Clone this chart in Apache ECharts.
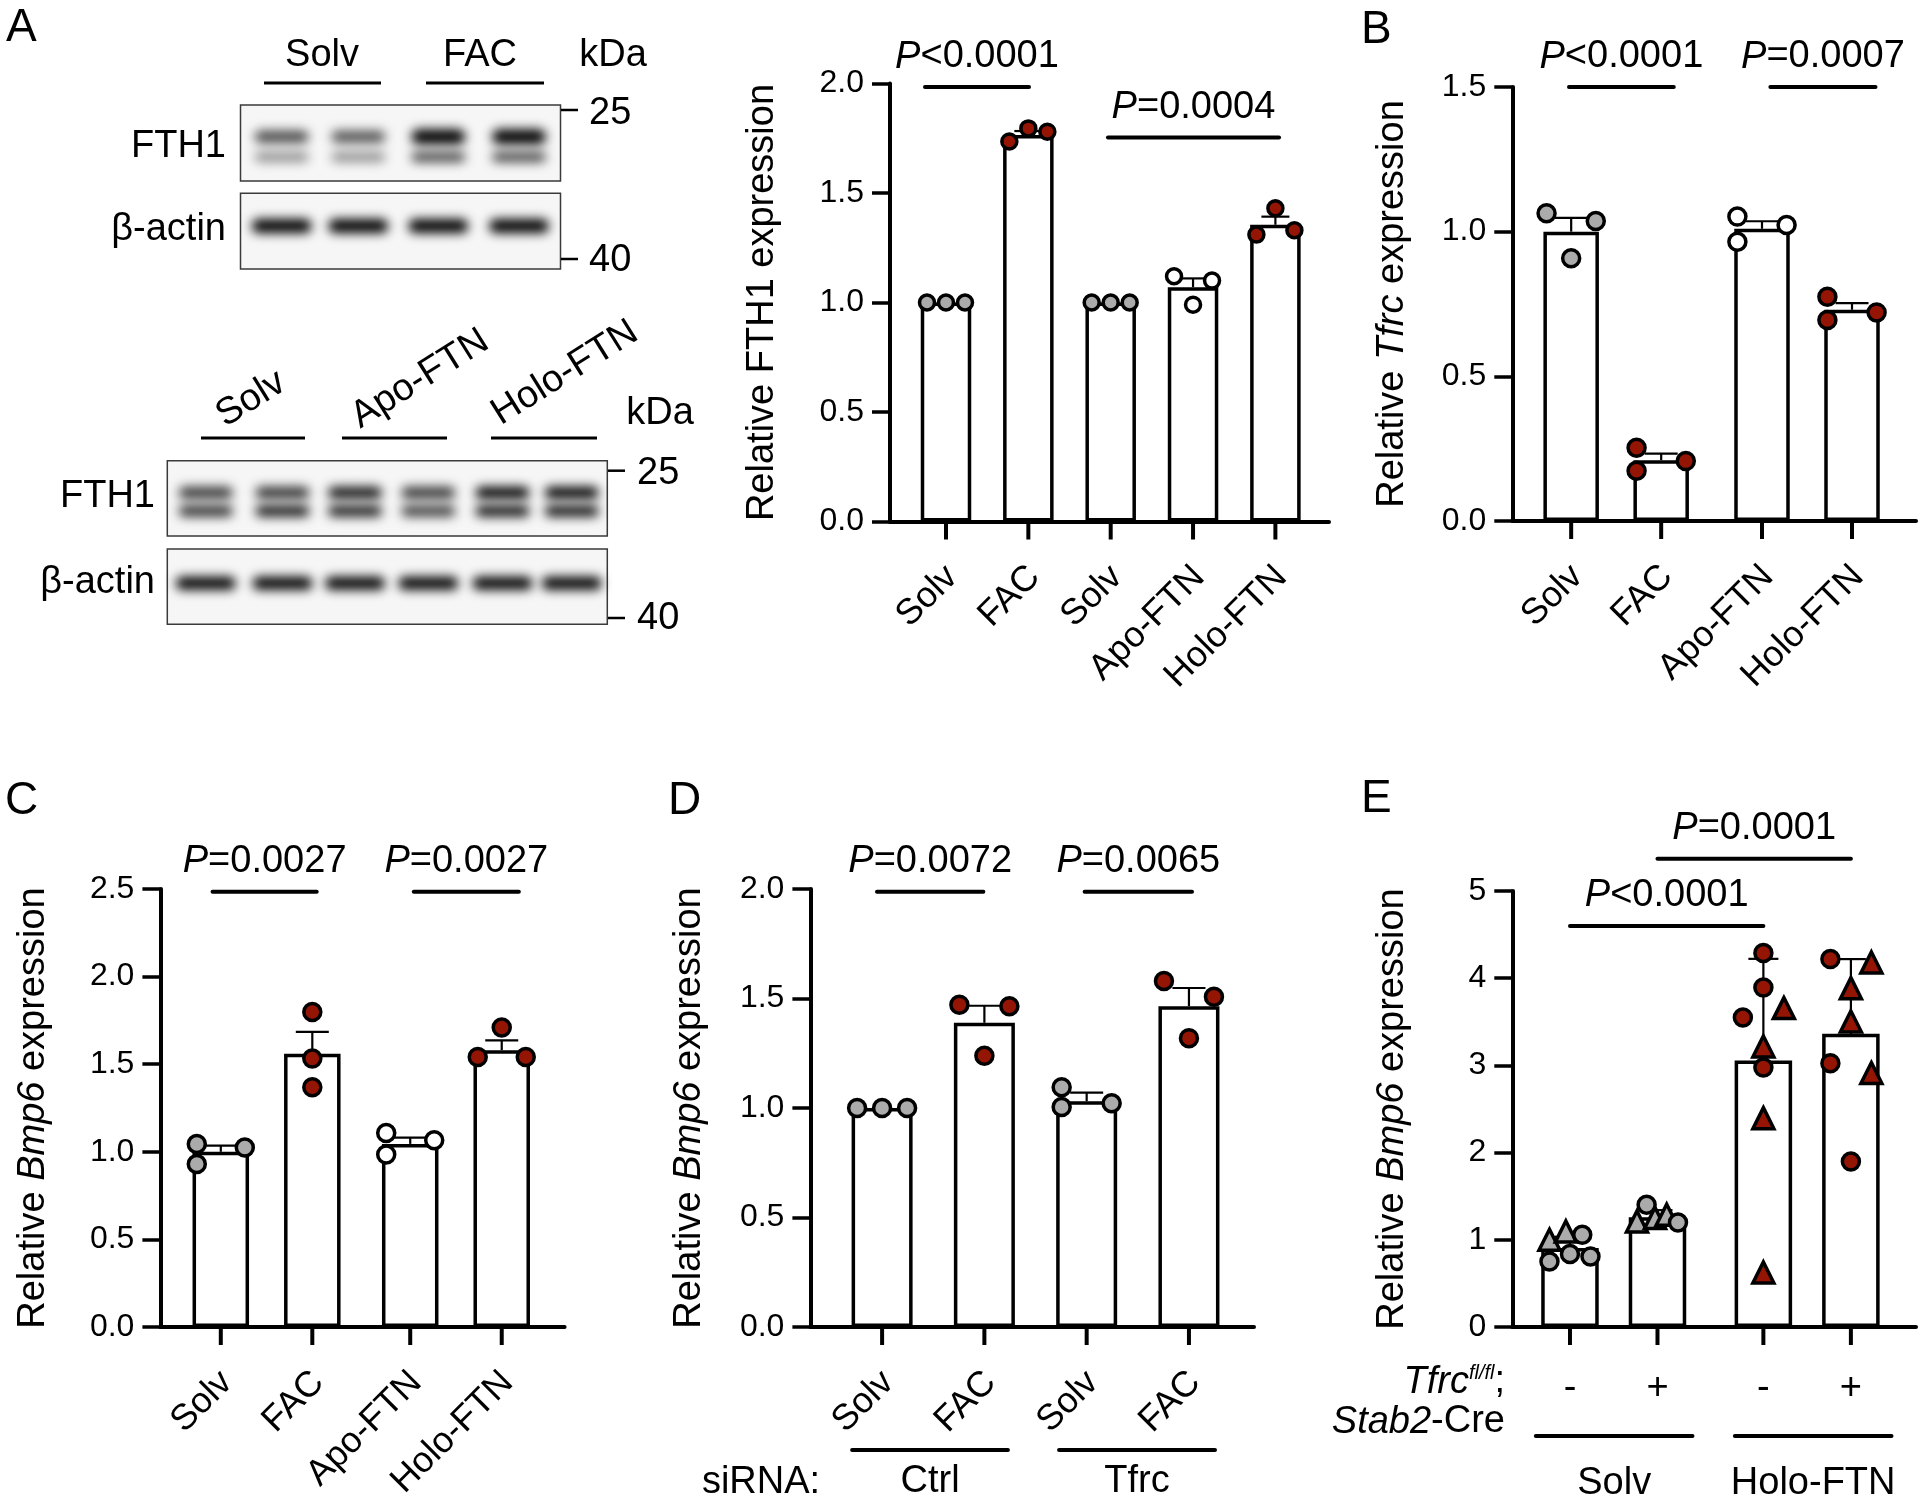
<!DOCTYPE html>
<html>
<head>
<meta charset="utf-8">
<script src="https://cdn.jsdelivr.net/npm/echarts@6.0.0/dist/echarts.min.js"></script>
<style>
  html, body { margin: 0; padding: 0; background: #fff; }
  #chart { width: 1920px; height: 1506px; }
</style>
</head>
<body>
<div id="chart"></div>
<script>
const FONT = '"Liberation Sans", Arial, Helvetica, sans-serif'
const RED = '#951505'
const GRAY = '#ababab'
const WHITE = '#ffffff'

// ---- A: FTH1 quantification ----
const catA = ['Solv', 'FAC', 'Solv', 'Apo-FTN', 'Holo-FTN']
const meanA = [1.0, 1.765, 1.0, 1.07, 1.355]
const errA = [0, 0.018, 0, 0.04, 0.037]
const ptsA = [[1, 1, 1], [1.735, 1.795, 1.78], [1, 1, 1], [1.12, 0.99, 1.10], [1.31, 1.43, 1.33]]
const jitA = [[-1, 0, 1], [-1, 0, 1], [-1, 0, 1], [-1, 0, 1], [-1, 0, 1]]
const fillA = [GRAY, RED, GRAY, WHITE, RED]
const sigA = [[-0.255, 1.008, 1.984], [1.967, 4.044, 1.753]]
const sigTxtA = ['<0.0001', '=0.0004']

// ---- B: Tfrc ----
const catB = ['Solv', 'FAC', 'Apo-FTN', 'Holo-FTN']
const meanB = [1.0, 0.21, 1.01, 0.73]
const errB = [0.048, 0.023, 0.026, 0.023]
const ptsB = [[1.064, 1.037, 0.908], [0.253, 0.174, 0.207], [1.052, 0.965, 1.023], [0.775, 0.695, 0.721]]
const jitB = [[-1, 1, 0], [-1, -1, 1], [-1, -1, 1], [-1, -1, 1]]
const fillB = [GRAY, RED, WHITE, RED]
const sigB = [[-0.024, 1.14, 1.5], [2.213, 3.381, 1.5]]
const sigTxtB = ['<0.0001', '=0.0007']

// ---- C: Bmp6 ----
const catC = ['Solv', 'FAC', 'Apo-FTN', 'Holo-FTN']
const meanC = [1.0, 1.56, 1.045, 1.58]
const errC = [0.035, 0.125, 0.036, 0.056]
const ptsC = [[1.044, 0.930, 1.025], [1.798, 1.533, 1.369], [1.107, 0.985, 1.066], [1.709, 1.541, 1.541]]
const jitC = [[-1, -1, 1], [0, 0, 0], [-1, -1, 1], [0, -1, 1]]
const fillC = [GRAY, RED, WHITE, RED]
const sigC = [[-0.09, 1.048, 2.485], [2.109, 3.257, 2.485]]
const sigTxtC = ['=0.0027', '=0.0027']

// ---- D: Bmp6 with siRNA ----
const catD = ['Solv', 'FAC', 'Solv', 'FAC']
const meanD = [1.0, 1.389, 1.031, 1.465]
const errD = [0, 0.078, 0.039, 0.083]
const ptsD = [[1, 1, 1], [1.471, 1.465, 1.239], [1.095, 1.005, 1.022], [1.580, 1.508, 1.319]]
const jitD = [[-1, 0, 1], [-1, 1, 0], [-1, -1, 1], [-1, 1, 0]]
const fillD = [GRAY, RED, GRAY, RED]
const sigD = [[-0.05, 0.99, 1.988], [1.98, 3.03, 1.988]]
const sigTxtD = ['=0.0072', '=0.0065']
const grpLineD = [[-0.293, 1.23], [1.73, 3.255]]
const grpTxtD = ['Ctrl', 'Tfrc']

// ---- E: Bmp6 in mice ----
const catE = ['-', '+', '-', '+']
const meanE = [0.905, 1.26, 3.056, 3.362]
const errE = [0.13, 0.08, 1.166, 0.857]
const ptsE = [
  [1.0, 1.095, 1.057, 0.751, 0.836, 0.809],
  [1.401, 1.21, 1.249, 1.287, 1.199],
  [4.288, 3.894, 3.55, 3.657, 3.217, 2.976, 2.395, 0.625],
  [4.219, 4.18, 3.886, 3.504, 3.026, 2.912, 1.898]
]
const shpE = [
  ['t', 't', 'c', 'c', 'c', 'c'],
  ['c', 't', 't', 't', 'c'],
  ['c', 'c', 'c', 't', 't', 'c', 't', 't'],
  ['c', 't', 't', 't', 'c', 't', 'c']
]
const jitE = [
  [-1, -0.2, 0.6, -1, 0, 1],
  [-0.53, -1, -0.12, 0.45, 1],
  [0, 0, -1, 1, 0, 0, 0, 0],
  [-1, 1, 0, 0, -1, 1, 0]
]
const fillE = [GRAY, GRAY, RED, RED]
const sigE = [[0, 2.21, 4.6], [1.0, 3.21, 5.37]]
const sigTxtE = ['<0.0001', '=0.0001']
const grpLineE = [[-0.39, 1.4], [1.884, 3.674]]
const grpTxtE = ['Solv', 'Holo-FTN']

// ---- western blot band intensities (0..1) ----
const blot1Top = [0.72, 0.68, 1, 1]
const blot1Low = [0.42, 0.42, 0.72, 0.72]
const blot1Act = [1, 1, 1, 1]
const blot2Top = [0.78, 0.8, 0.92, 0.78, 1, 1]
const blot2Low = [0.82, 0.92, 0.9, 0.76, 0.95, 0.95]
const blot2Act = [1, 1, 1, 1, 1, 1]

const grids = []
const xAxes = []
const yAxes = []
const series = []

function txtStyle(size, extra) {
  return Object.assign({ fontSize: size, fontFamily: FONT, fill: '#000' }, extra || {})
}

function addPanel(p) {
  const g = grids.length
  grids.push(p.grid)
  const pos = p.cats.map((c, i) => i + (p.grp ? p.grp[i] * p.gap : 0))
  xAxes.push({
    type: 'value', gridIndex: g, min: p.xMin, max: p.xMax,
    axisLine: { show: true, onZero: false, lineStyle: { color: '#000', width: 4 } },
    axisTick: { show: false }, axisLabel: { show: false }, splitLine: { show: false }
  })
  yAxes.push({
    type: 'value', gridIndex: g, min: 0, max: p.yMax, interval: p.yInt,
    axisLine: { show: true, onZero: false, lineStyle: { color: '#000', width: 4 } },
    axisTick: { show: true, length: 18, lineStyle: { color: '#000', width: 3.5 } },
    axisLabel: { color: '#000', fontSize: 32, fontFamily: FONT, margin: 26, formatter: v => v.toFixed(p.dec) },
    splitLine: { show: false },
    name: p.yName, nameLocation: 'middle', nameGap: p.nameGap,
    nameTextStyle: {
      color: '#000', fontSize: 38, fontFamily: FONT,
      rich: { i: { fontStyle: 'italic', fontSize: 38, fontFamily: FONT, color: '#000' } }
    }
  })

  // bars
  series.push({
    type: 'bar', xAxisIndex: g, yAxisIndex: g, barWidth: p.barW, z: 2,
    data: p.mean.map((m, i) => [pos[i], m]),
    itemStyle: { color: '#fff', borderColor: '#000', borderWidth: 3.5 }
  })

  // error bars (upper half only)
  series.push({
    type: 'custom', xAxisIndex: g, yAxisIndex: g, z: 3,
    data: p.mean.map((m, i) => [pos[i], m, p.err[i]]),
    renderItem: (params, api) => {
      const e = api.value(2)
      if (!e) return null
      const a = api.coord([api.value(0), api.value(1)])
      const b = api.coord([api.value(0), api.value(1) + e])
      const hw = p.cap / 2
      return {
        type: 'group', children: [
          { type: 'line', shape: { x1: a[0], y1: a[1], x2: b[0], y2: b[1] }, style: { stroke: '#000', lineWidth: 2.2 } },
          { type: 'line', shape: { x1: b[0] - hw, y1: b[1], x2: b[0] + hw, y2: b[1] }, style: { stroke: '#000', lineWidth: 2.2 } }
        ]
      }
    }
  })

  // individual points
  const sd = []
  p.pts.forEach((arr, i) => arr.forEach((v, j) => {
    const tri = p.shp && p.shp[i][j] === 't'
    sd.push({
      value: [pos[i], v],
      symbol: tri ? 'triangle' : 'circle',
      symbolSize: tri ? p.sym + 4 : p.sym,
      symbolOffset: [p.jit[i][j] * p.spacing, 0],
      itemStyle: { color: p.fill[i] }
    })
  }))
  series.push({
    type: 'scatter', xAxisIndex: g, yAxisIndex: g, z: 4, data: sd,
    itemStyle: { borderColor: '#000', borderWidth: 3.5, opacity: 1 }
  })

  // x ticks and category labels
  series.push({
    type: 'custom', xAxisIndex: g, yAxisIndex: g, z: 3,
    data: pos.map(x => [x, 0]),
    renderItem: (params, api) => {
      const c = api.coord([api.value(0), 0])
      const lab = p.cats[params.dataIndex]
      const kids = [{ type: 'line', shape: { x1: c[0], y1: c[1], x2: c[0], y2: c[1] + 18 }, style: { stroke: '#000', lineWidth: 4 } }]
      if (p.rot) {
        kids.push({ type: 'text', x: c[0] + 6, y: c[1] + 50, rotation: Math.PI / 4,
          style: txtStyle(36, { text: lab, align: 'right', verticalAlign: 'middle' }) })
      } else {
        kids.push({ type: 'text', x: c[0], y: c[1] + 62,
          style: txtStyle(38, { text: lab, align: 'center', verticalAlign: 'middle' }) })
      }
      return { type: 'group', children: kids }
    }
  })

  // significance bars
  series.push({
    type: 'custom', xAxisIndex: g, yAxisIndex: g, z: 3,
    data: p.sig,
    renderItem: (params, api) => {
      const a = api.coord([api.value(0), api.value(2)])
      const b = api.coord([api.value(1), api.value(2)])
      return {
        type: 'group', children: [
          { type: 'line', shape: { x1: a[0], y1: a[1], x2: b[0], y2: b[1] }, style: { stroke: '#000', lineWidth: 4, lineCap: 'round' } },
          { type: 'text', x: (a[0] + b[0]) / 2, y: a[1] - 30,
            style: txtStyle(38, {
              text: '{i|P}' + p.sigTxt[params.dataIndex], align: 'center', verticalAlign: 'middle',
              rich: { i: { fontStyle: 'italic', fontSize: 38, fontFamily: FONT, fill: '#000' } }
            }) }
        ]
      }
    }
  })

  // group underlines below the axis
  if (p.grpLine) {
    series.push({
      type: 'custom', xAxisIndex: g, yAxisIndex: g, z: 3,
      data: p.grpLine,
      renderItem: (params, api) => {
        const a = api.coord([api.value(0), 0])
        const b = api.coord([api.value(1), 0])
        return {
          type: 'group', children: [
            { type: 'line', shape: { x1: a[0], y1: a[1] + p.gLineDy, x2: b[0], y2: b[1] + p.gLineDy }, style: { stroke: '#000', lineWidth: 4, lineCap: 'round' } },
            { type: 'text', x: (a[0] + b[0]) / 2, y: a[1] + p.gTxtDy,
              style: txtStyle(38, { text: p.grpTxt[params.dataIndex], align: 'center', verticalAlign: 'middle' }) }
          ]
        }
      }
    })
  }
}

addPanel({
  grid: { left: 890, top: 83.5, width: 439, height: 438 },
  xMin: -0.68, xMax: 4.651, yMax: 2, yInt: 0.5, dec: 1,
  yName: 'Relative FTH1 expression', nameGap: 108,
  cats: catA, mean: meanA, err: errA, pts: ptsA, jit: jitA, fill: fillA,
  barW: 50.5, cap: 28, sym: 15, spacing: 19, rot: true,
  sig: sigA, sigTxt: sigTxtA
})
addPanel({
  grid: { left: 1512.3, top: 87, width: 403.7, height: 434 },
  xMin: -0.654, xMax: 3.831, yMax: 1.5, yInt: 0.5, dec: 1,
  yName: 'Relative {i|Tfrc} expression', nameGap: 101,
  cats: catB, grp: [0, 0, 1, 1], gap: 0.12,
  mean: meanB, err: errB, pts: ptsB, jit: jitB, fill: fillB,
  barW: 55.5, cap: 33, sym: 17, spacing: 24.6, rot: true,
  sig: sigB, sigTxt: sigTxtB
})
addPanel({
  grid: { left: 160.4, top: 889, width: 404.2, height: 438 },
  xMin: -0.66, xMax: 3.757, yMax: 2.5, yInt: 0.5, dec: 1,
  yName: 'Relative {i|Bmp6} expression', nameGap: 108,
  cats: catC, grp: [0, 0, 1, 1], gap: 0.07,
  mean: meanC, err: errC, pts: ptsC, jit: jitC, fill: fillC,
  barW: 56.5, cap: 33, sym: 17, spacing: 24, rot: true,
  sig: sigC, sigTxt: sigTxtC
})
addPanel({
  grid: { left: 810.4, top: 889, width: 443.6, height: 438 },
  xMin: -0.701, xMax: 3.636, yMax: 2, yInt: 0.5, dec: 1,
  yName: 'Relative {i|Bmp6} expression', nameGap: 102,
  cats: catD, mean: meanD, err: errD, pts: ptsD, jit: jitD, fill: fillD,
  barW: 61, cap: 33, sym: 17, spacing: 25, rot: true,
  sig: sigD, sigTxt: sigTxtD,
  grpLine: grpLineD, grpTxt: grpTxtD, gLineDy: 123, gTxtDy: 155
})
addPanel({
  grid: { left: 1512.3, top: 891, width: 403.7, height: 436 },
  xMin: -0.659, xMax: 3.954, yMax: 5, yInt: 1, dec: 0,
  yName: 'Relative {i|Bmp6} expression', nameGap: 101,
  cats: catE, grp: [0, 0, 1, 1], gap: 0.21,
  mean: meanE, err: errE, pts: ptsE, jit: jitE, shp: shpE, fill: fillE,
  barW: 57.5, cap: 30, sym: 17, spacing: 20.5, rot: false,
  sig: sigE, sigTxt: sigTxtE,
  grpLine: grpLineE, grpTxt: grpTxtE, gLineDy: 109, gTxtDy: 157
})

// ---- static graphics: panel letters, blots, side labels ----
const gfx = []
function text(x, y, s, size, align, extra) {
  gfx.push(Object.assign({ type: 'text', x: x, y: y, silent: true,
    style: txtStyle(size, { text: s, align: align || 'left', verticalAlign: 'middle' }) }, extra || {}))
}
function line(x1, y1, x2, y2, w) {
  gfx.push({ type: 'line', silent: true, shape: { x1, y1, x2, y2 }, style: { stroke: '#000', lineWidth: w || 3 } })
}
function box(x, y, w, h) {
  gfx.push({ type: 'rect', silent: true, shape: { x, y, width: w, height: h }, style: { fill: '#f6f6f6', stroke: '#3a3a3a', lineWidth: 1.5 } })
}
// blurred band: shape drawn off-canvas, only its shadow lands in place
function band(cx, cy, w, h, a) {
  gfx.push({ type: 'rect', silent: true, z: 10,
    shape: { x: cx - w / 2, y: cy - h / 2 - 3000, width: w, height: h, r: h / 2 },
    style: { fill: '#000', shadowBlur: 11, shadowOffsetY: 3000, shadowColor: 'rgba(0,0,0,' + a + ')' } })
}

// panel letters
text(6, 28, 'A', 46)
text(1361, 30, 'B', 46)
text(5, 801, 'C', 46)
text(668, 801, 'D', 46)
text(1361, 799, 'E', 46)

// blot 1 (Solv / FAC)
text(322, 56, 'Solv', 38, 'center')
text(480, 56, 'FAC', 38, 'center')
text(613, 56, 'kDa', 38, 'center')
line(264, 83, 381, 83)
line(426, 83, 544, 83)
box(240.5, 105, 320, 76)
box(240.5, 193.3, 320, 75.7)
const lanes1 = [281.7, 358.3, 438.3, 519]
lanes1.forEach((x, i) => {
  band(x, 136.7, 54, i > 1 ? 15 : 12, blot1Top[i])
  band(x, 157, 54, 10, blot1Low[i])
  band(x, 226, 60, 14, blot1Act[i])
})
text(226, 147, 'FTH1', 38, 'right')
text(226, 230, 'β-actin', 38, 'right')
line(561, 110, 578, 110, 2.5)
text(589, 114, '25', 38)
line(561, 259, 578, 259, 2.5)
text(589, 261, '40', 38)

// blot 2 (Solv / Apo-FTN / Holo-FTN)
const rot32 = { rotation: 32 * Math.PI / 180 }
text(251, 399, 'Solv', 38, 'center', rot32)
text(420, 379, 'Apo-FTN', 38, 'center', rot32)
text(565, 373, 'Holo-FTN', 38, 'center', rot32)
text(660, 414, 'kDa', 38, 'center')
line(201, 438, 305, 438)
line(342, 438, 447, 438)
line(491, 438, 597, 438)
box(167.3, 460.7, 440, 75.3)
box(167.3, 549, 440, 75.3)
const lanes2 = [205.8, 282.5, 355, 428.3, 502.5, 571.7]
lanes2.forEach((x, i) => {
  band(x, 492.7, 54, 12, blot2Top[i])
  band(x, 511, 54, 11, blot2Low[i])
  band(x, 583.3, 60, 13, blot2Act[i])
})
text(155, 497, 'FTH1', 38, 'right')
text(155, 583, 'β-actin', 38, 'right')
line(608, 470.7, 625, 470.7, 2.5)
text(637, 474, '25', 38)
line(608, 618, 625, 618, 2.5)
text(637, 619, '40', 38)

// D row label
text(761, 1483, 'siRNA:', 38, 'center')

// E row labels
gfx.push({ type: 'text', x: 1505, y: 1382, silent: true,
  style: txtStyle(38, { text: '{it|Tfrc}{sup|fl/fl}{n|;}', align: 'right', verticalAlign: 'middle',
    rich: {
      it: { fontStyle: 'italic', fontSize: 38, fontFamily: FONT, fill: '#000' },
      sup: { fontStyle: 'italic', fontSize: 20, fontFamily: FONT, fill: '#000', verticalAlign: 'top' },
      n: { fontSize: 38, fontFamily: FONT, fill: '#000' }
    } }) })
gfx.push({ type: 'text', x: 1505, y: 1422, silent: true,
  style: txtStyle(38, { text: '{it|Stab2}-Cre', align: 'right', verticalAlign: 'middle',
    rich: { it: { fontStyle: 'italic', fontSize: 38, fontFamily: FONT, fill: '#000' } } }) })

const chart = echarts.init(document.getElementById('chart'))
chart.setOption({
  animation: false,
  backgroundColor: '#fff',
  grid: grids,
  xAxis: xAxes,
  yAxis: yAxes,
  series: series,
  graphic: { elements: gfx }
})
</script>
</body>
</html>
